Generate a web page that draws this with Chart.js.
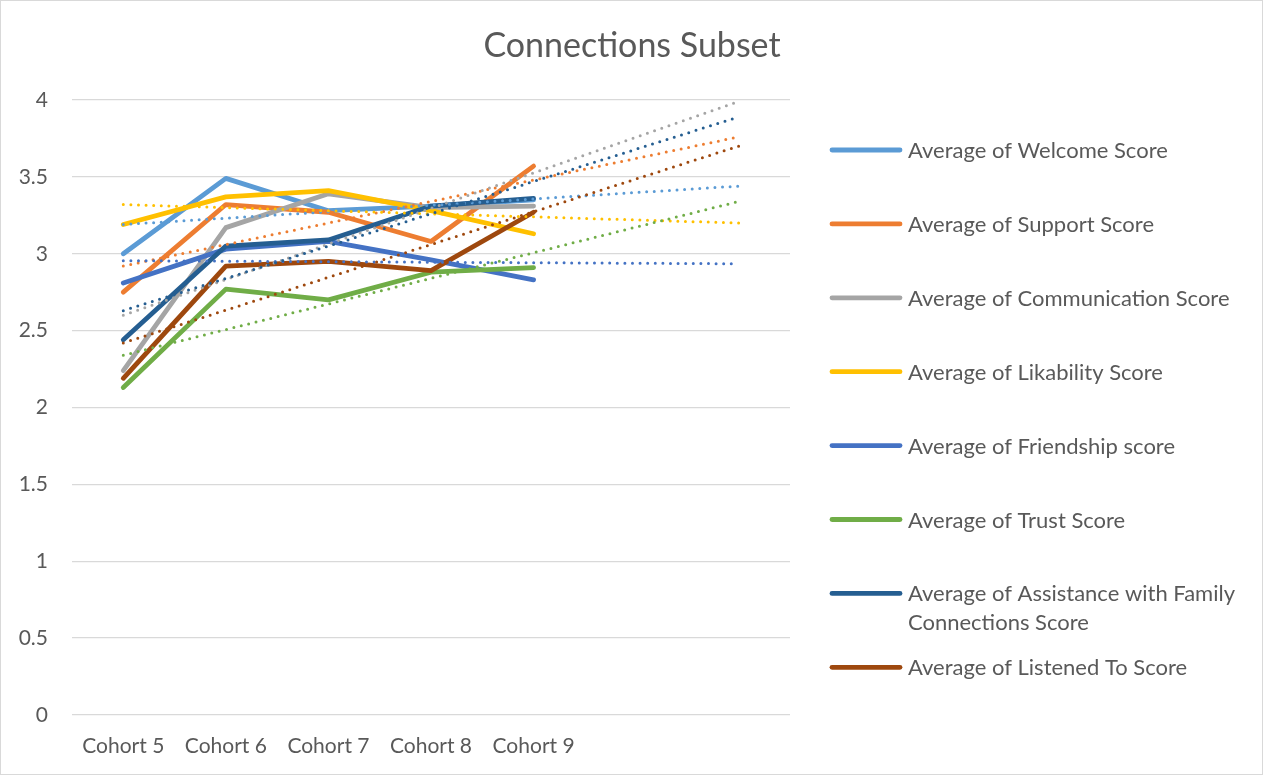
<!DOCTYPE html>
<html>
<head>
<meta charset="utf-8">
<title>Connections Subset</title>
<script src="https://cdn.jsdelivr.net/npm/chart.js@4.4.1/dist/chart.umd.min.js"></script>
<style>
  html, body { margin: 0; padding: 0; background: #fff; }
  #wrap { position: relative; width: 1263px; height: 775px; }
</style>
</head>
<body>
<div id="wrap"><canvas id="chart" width="1263" height="775"></canvas></div>
<script>
/* ---------- data ---------- */
const cohorts = ['Cohort 5', 'Cohort 6', 'Cohort 7', 'Cohort 8', 'Cohort 9', '', ''];
const yTicks = [0, 0.5, 1, 1.5, 2, 2.5, 3, 3.5, 4];

const welcome       = [3.00, 3.49, 3.28, 3.31, 3.35];
const support       = [2.75, 3.32, 3.27, 3.08, 3.57];
const communication = [2.24, 3.17, 3.39, 3.30, 3.31];
const likability    = [3.19, 3.37, 3.41, 3.28, 3.13];
const friendship    = [2.81, 3.03, 3.08, 2.96, 2.83];
const trust         = [2.13, 2.77, 2.70, 2.88, 2.91];
const assistance    = [2.44, 3.05, 3.09, 3.31, 3.36];
const listenedTo    = [2.19, 2.92, 2.95, 2.89, 3.27];

// dotted linear trendlines: value at Cohort 5 and at the end of the 2-period forecast
const welcomeTrend       = [3.19, 3.44];
const supportTrend       = [2.92, 3.76];
const communicationTrend = [2.60, 3.99];
const likabilityTrend    = [3.32, 3.20];
const friendshipTrend    = [2.955, 2.935];
const trustTrend         = [2.34, 3.34];
const assistanceTrend    = [2.63, 3.89];
const listenedToTrend    = [2.42, 3.70];

const seriesNames = [
  'Average of Welcome Score',
  'Average of Support Score',
  'Average of Communication Score',
  'Average of Likability Score',
  'Average of Friendship score',
  'Average of Trust Score',
  'Average of Assistance with Family Connections Score',
  'Average of Listened To Score'
];
const seriesValues = [welcome, support, communication, likability, friendship, trust, assistance, listenedTo];
const seriesTrends = [welcomeTrend, supportTrend, communicationTrend, likabilityTrend,
                      friendshipTrend, trustTrend, assistanceTrend, listenedToTrend];
const seriesColors = ['#5B9BD5', '#ED7D31', '#A5A5A5', '#FFC000', '#4472C4', '#70AD47', '#255E91', '#9E480E'];

const FONT = 'Lato, "Open Sans", sans-serif';
const TEXT = '#595959';

/* ---------- datasets ---------- */
const datasets = [];
seriesNames.forEach((name, i) => {
  datasets.push({
    label: name,
    data: seriesValues[i],
    borderColor: seriesColors[i],
    borderWidth: 4.8,
    borderJoinStyle: 'round',
    borderCapStyle: 'round',
    pointRadius: 0,
    tension: 0,
    fill: false,
    order: 100 - i
  });
});
seriesNames.forEach((name, i) => {
  const t = seriesTrends[i];
  datasets.push({
    label: name + ' trend',
    isTrend: true,
    data: [t[0], null, null, null, null, null, t[1]],
    spanGaps: true,
    borderColor: seriesColors[i],
    borderWidth: 3,
    borderDash: [0, 7.6],
    borderCapStyle: 'round',
    pointRadius: 0,
    fill: false,
    order: 10 - i
  });
});

/* ---------- title, legend and frame ---------- */
function wrapText(ctx, text, maxW) {
  const words = text.split(' ');
  const lines = [];
  let line = '';
  words.forEach(w => {
    const test = line ? line + ' ' + w : w;
    if (ctx.measureText(test).width > maxW && line) {
      lines.push(line);
      line = w;
    } else {
      line = test;
    }
  });
  lines.push(line);
  return lines;
}

const decorPlugin = {
  id: 'decor',
  afterDraw(chart) {
    const ctx = chart.ctx;
    ctx.save();
    // frame
    ctx.strokeStyle = '#d9d9d9';
    ctx.lineWidth = 1;
    ctx.strokeRect(0.5, 0.5, chart.width - 1, chart.height - 1);

    // title
    ctx.fillStyle = TEXT;
    ctx.font = '34px ' + FONT;
    ctx.textAlign = 'center';
    ctx.textBaseline = 'middle';
    ctx.fillText('Connections Subset', 632, 46);

    // legend (main series only)
    ctx.font = '22px ' + FONT;
    ctx.textAlign = 'left';
    chart.data.datasets.filter(d => !d.isTrend).forEach((d, i) => {
      const y = 150 + i * 73.9;
      ctx.strokeStyle = d.borderColor;
      ctx.lineWidth = 4.8;
      ctx.lineCap = 'round';
      ctx.beginPath();
      ctx.moveTo(832, y);
      ctx.lineTo(900, y);
      ctx.stroke();
      ctx.fillStyle = TEXT;
      wrapText(ctx, d.label, 345).forEach((ln, k) => {
        ctx.fillText(ln, 908, y + 1 + k * 29);
      });
    });
    ctx.restore();
  }
};

/* ---------- chart ---------- */
new Chart(document.getElementById('chart').getContext('2d'), {
  type: 'line',
  data: { labels: cohorts, datasets: datasets },
  options: {
    responsive: false,
    animation: false,
    layout: { padding: { left: 12, right: 473, top: 100, bottom: 0 } },
    plugins: {
      legend: { display: false },
      title: { display: false },
      tooltip: { enabled: false }
    },
    scales: {
      x: {
        offset: true,
        grid: { display: false, drawTicks: false },
        border: { display: false },
        ticks: { color: TEXT, font: { family: FONT, size: 21 }, padding: 19, maxRotation: 0, autoSkip: false },
        afterFit: s => { s.height = 60; }
      },
      y: {
        min: 0,
        max: 4,
        afterBuildTicks: s => { s.ticks = yTicks.map(v => ({ value: v })); },
        grid: { color: '#d9d9d9', lineWidth: 1.3, drawTicks: false },
        border: { display: false },
        ticks: { color: TEXT, font: { family: FONT, size: 21 }, padding: 24, callback: v => String(v) },
        afterFit: s => { s.width = 60; }
      }
    }
  },
  plugins: [decorPlugin]
});
</script>
</body>
</html>
